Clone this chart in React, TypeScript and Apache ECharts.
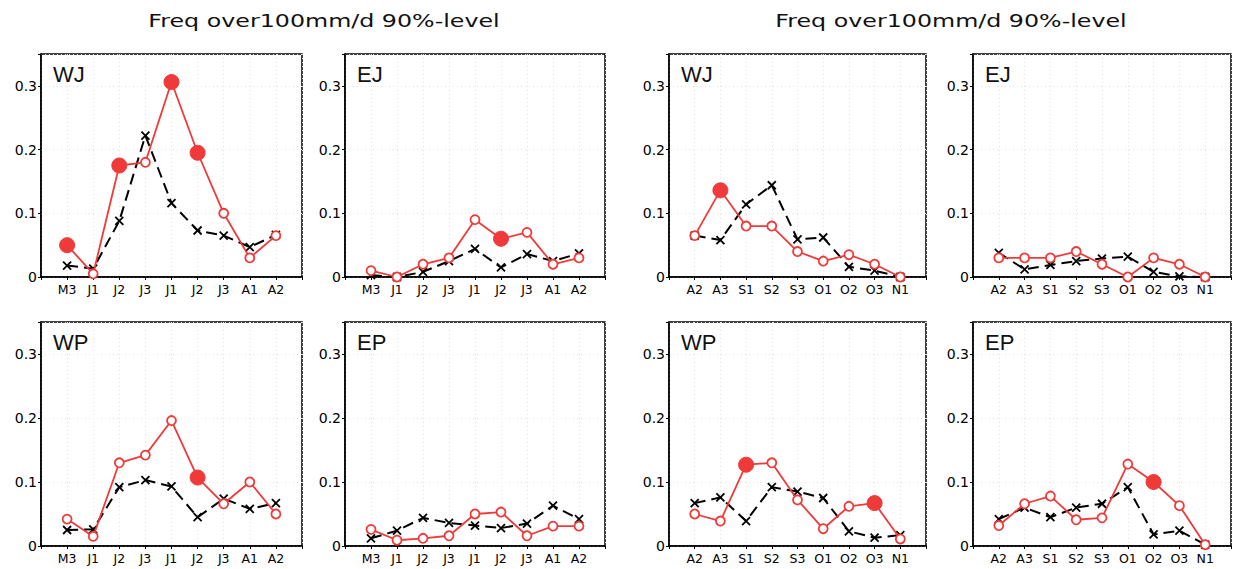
import React, { useEffect, useRef } from "react";
import * as echarts from "echarts";

// Categories (x-axis tick labels)
const catsJun = ["M3", "J1", "J2", "J3", "J1", "J2", "J3", "A1", "A2"];
const catsSep = ["A2", "A3", "S1", "S2", "S3", "O1", "O2", "O3", "N1"];

// Top-left pair (WJ, EJ) — Jun-Aug
const redWJ1 = [0.050, 0.005, 0.175, 0.180, 0.306, 0.195, 0.100, 0.030, 0.065];
const blackWJ1 = [0.018, 0.013, 0.088, 0.222, 0.116, 0.073, 0.065, 0.047, 0.066];
const sigWJ1 = [0, 2, 4, 5];

const redEJ1 = [0.010, 0.000, 0.020, 0.030, 0.090, 0.060, 0.070, 0.020, 0.030];
const blackEJ1 = [0.003, 0.000, 0.008, 0.025, 0.044, 0.015, 0.036, 0.025, 0.037];
const sigEJ1 = [5];

// Top-right pair (WJ, EJ) — Aug-Nov
const redWJ2 = [0.065, 0.136, 0.080, 0.080, 0.040, 0.025, 0.035, 0.020, 0.000];
const blackWJ2 = [0.065, 0.058, 0.114, 0.144, 0.059, 0.062, 0.016, 0.010, 0.000];
const sigWJ2 = [1];

const redEJ2 = [0.030, 0.030, 0.030, 0.040, 0.020, 0.000, 0.030, 0.020, 0.000];
const blackEJ2 = [0.038, 0.012, 0.019, 0.025, 0.029, 0.032, 0.008, 0.001, 0.000];
const sigEJ2: number[] = [];

// Bottom-left pair (WP, EP)
const redWP1 = [0.042, 0.015, 0.130, 0.142, 0.196, 0.107, 0.066, 0.100, 0.050];
const blackWP1 = [0.025, 0.026, 0.092, 0.103, 0.093, 0.045, 0.074, 0.058, 0.067];
const sigWP1 = [5];

const redEP1 = [0.026, 0.009, 0.012, 0.016, 0.050, 0.053, 0.016, 0.031, 0.031];
const blackEP1 = [0.012, 0.024, 0.044, 0.036, 0.032, 0.028, 0.035, 0.063, 0.042];
const sigEP1: number[] = [];

// Bottom-right pair (WP, EP)
const redWP2 = [0.050, 0.039, 0.127, 0.130, 0.072, 0.027, 0.062, 0.067, 0.011];
const blackWP2 = [0.067, 0.076, 0.039, 0.092, 0.085, 0.075, 0.023, 0.013, 0.017];
const sigWP2 = [2, 7];

const redEP2 = [0.032, 0.066, 0.078, 0.041, 0.044, 0.128, 0.100, 0.063, 0.002];
const blackEP2 = [0.042, 0.060, 0.045, 0.060, 0.066, 0.092, 0.018, 0.024, 0.002];
const sigEP2 = [6];

const yTicks = [0, 0.1, 0.2, 0.3];
const titleText = "Freq over100mm/d 90%-level";

const RED = "#f03a3a";

type Panel = {
  label: string;
  cats: string[];
  red: number[];
  black: number[];
  sig: number[];
  rect: { left: number; top: number; width: number; height: number };
};

const topY = 54;
const botY = 322;
const H1 = 223;
const H2 = 224;

const panels: Panel[] = [
  { label: "WJ", cats: catsJun, red: redWJ1, black: blackWJ1, sig: sigWJ1, rect: { left: 41, top: topY, width: 261, height: H1 } },
  { label: "EJ", cats: catsJun, red: redEJ1, black: blackEJ1, sig: sigEJ1, rect: { left: 345, top: topY, width: 260, height: H1 } },
  { label: "WJ", cats: catsSep, red: redWJ2, black: blackWJ2, sig: sigWJ2, rect: { left: 669, top: topY, width: 257, height: H1 } },
  { label: "EJ", cats: catsSep, red: redEJ2, black: blackEJ2, sig: sigEJ2, rect: { left: 973, top: topY, width: 258, height: H1 } },
  { label: "WP", cats: catsJun, red: redWP1, black: blackWP1, sig: sigWP1, rect: { left: 41, top: botY, width: 261, height: H2 } },
  { label: "EP", cats: catsJun, red: redEP1, black: blackEP1, sig: sigEP1, rect: { left: 345, top: botY, width: 260, height: H2 } },
  { label: "WP", cats: catsSep, red: redWP2, black: blackWP2, sig: sigWP2, rect: { left: 669, top: botY, width: 257, height: H2 } },
  { label: "EP", cats: catsSep, red: redEP2, black: blackEP2, sig: sigEP2, rect: { left: 973, top: botY, width: 258, height: H2 } },
];

function buildOption() {
  const grid: any[] = [];
  const xAxis: any[] = [];
  const yAxis: any[] = [];
  const series: any[] = [];
  const graphic: any[] = [];

  panels.forEach((p, i) => {
    grid.push({
      ...p.rect,
      show: true,
      borderColor: "#000",
      borderWidth: 1.5,
      backgroundColor: "#fff",
      containLabel: false,
    });
    xAxis.push({
      type: "value",
      gridIndex: i,
      min: 0,
      max: 10,
      interval: 1,
      axisLine: { show: true, lineStyle: { color: "#000", width: 1.5 } },
      axisTick: { show: true, length: 3, lineStyle: { color: "#000", width: 1 } },
      axisLabel: {
        formatter: (v: number) => p.cats[Math.round(v) - 1] ?? "",
        fontSize: 12.5,
        color: "#000",
        fontFamily: "DejaVu Sans",
        margin: 6,
      },
      splitLine: { show: true, lineStyle: { type: [1, 3], color: "#e2e2e2", width: 1 } },
    });
    yAxis.push({
      type: "value",
      gridIndex: i,
      min: 0,
      max: 0.35,
      interval: 0.1,
      axisLine: { show: true, lineStyle: { color: "#000", width: 1.5 } },
      axisTick: { show: true, length: 3, lineStyle: { color: "#000", width: 1 } },
      axisLabel: {
        formatter: (v: number) => {
          const t = yTicks.find((k) => Math.abs(k - v) < 1e-6);
          if (t === undefined) return "";
          return t === 0 ? "0" : t.toFixed(1);
        },
        fontSize: 14,
        color: "#000",
        fontFamily: "DejaVu Sans",
        margin: 4,
      },
      splitLine: { show: true, lineStyle: { type: [1, 3], color: "#e2e2e2", width: 1 } },
    });
    series.push({
      type: "line",
      xAxisIndex: i,
      yAxisIndex: i,
      data: p.black.map((v, k) => [k + 1, v]),
      symbol: "path://M0,0L10,10M10,0L0,10",
      symbolSize: 8,
      showAllSymbol: true,
      itemStyle: { color: "#000", borderColor: "#000", borderWidth: 1.8 },
      lineStyle: { color: "#000", width: 2, type: [11, 6] },
      z: 2,
    });
    series.push({
      type: "line",
      xAxisIndex: i,
      yAxisIndex: i,
      data: p.red.map((v, k) =>
        p.sig.includes(k)
          ? { value: [k + 1, v], symbolSize: 15, itemStyle: { color: RED, borderColor: RED, borderWidth: 1 } }
          : { value: [k + 1, v] }
      ),
      symbol: "circle",
      symbolSize: 9,
      showAllSymbol: true,
      itemStyle: { color: "#fff", borderColor: RED, borderWidth: 1.8 },
      lineStyle: { color: RED, width: 1.8 },
      z: 3,
    });
    graphic.push({
      type: "text",
      x: p.rect.left + 12,
      y: p.rect.top + 9,
      z: 10,
      style: {
        text: p.label,
        font: "22px 'Liberation Sans'",
        fill: "#111",
        textAlign: "left",
        textVerticalAlign: "top",
      },
    });
  });

  graphic.push({
    type: "text",
    x: 324,
    y: 21,
    scaleX: 1.32,
    style: {
      text: titleText,
      font: "18px 'DejaVu Sans'",
      fill: "#111",
      textAlign: "center",
      textVerticalAlign: "middle",
    },
  });
  graphic.push({
    type: "text",
    x: 951,
    y: 21,
    scaleX: 1.32,
    style: {
      text: titleText,
      font: "18px 'DejaVu Sans'",
      fill: "#111",
      textAlign: "center",
      textVerticalAlign: "middle",
    },
  });

  return {
    animation: false,
    backgroundColor: "#fff",
    grid,
    xAxis,
    yAxis,
    series,
    graphic,
  };
}

export default function App() {
  const ref = useRef<HTMLDivElement>(null);
  useEffect(() => {
    document.body.style.margin = "0";
    if (!ref.current) return;
    const chart = echarts.init(ref.current, undefined, { renderer: "svg" });
    chart.setOption(buildOption() as any);
    return () => chart.dispose();
  }, []);
  return <div ref={ref} style={{ width: 1239, height: 569 }} />;
}
